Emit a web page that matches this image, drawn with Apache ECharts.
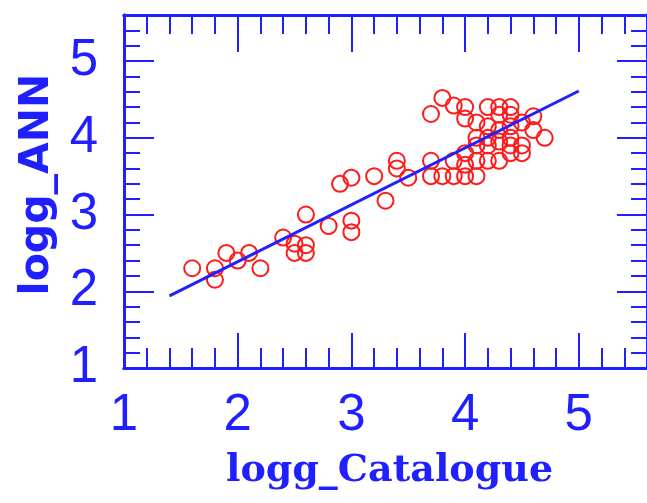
<!DOCTYPE html>
<html>
<head>
<meta charset="utf-8">
<script src="https://cdn.jsdelivr.net/npm/echarts@6/dist/echarts.min.js"></script>
<style>
  html, body { margin: 0; padding: 0; background: #fff; }
  #chart { width: 647px; height: 503px; }
</style>
</head>
<body>
<div id="chart"></div>
<script>
// Catalogue surface gravity vs. network-derived surface gravity
const loggCatalogue = [
  1.6, 1.8, 1.8, 1.9, 2.0, 2.1, 2.2, 2.4, 2.5, 2.5, 2.6, 2.6, 2.6, 2.8, 2.9,
  3.0, 3.0, 3.0, 3.2, 3.3, 3.4, 3.4, 3.5,
  3.7, 3.8, 3.9, 4.0, 4.0, 4.1, 4.2, 4.3, 4.4, 4.3, 4.4, 4.6,
  4.2, 4.3, 4.4, 4.5, 4.6, 4.1, 4.2, 4.3, 4.4, 4.7,
  4.1, 4.2, 4.4, 4.5, 4.0, 4.4, 4.5,
  3.7, 3.9, 4.1, 4.2, 4.3, 3.7, 3.8, 3.9, 4.0, 4.1, 4.0
];
const loggANN = [
  2.30, 2.30, 2.15, 2.50, 2.40, 2.50, 2.30, 2.70, 2.50, 2.62, 3.00, 2.60, 2.50, 2.85, 3.40,
  2.92, 2.77, 3.48, 3.50, 3.18, 3.70, 3.60, 3.48,
  4.31, 4.52, 4.42, 4.40, 4.25, 4.20, 4.40, 4.40, 4.40, 4.30, 4.30, 4.28,
  4.15, 4.10, 4.15, 4.20, 4.10, 4.00, 4.00, 3.95, 4.00, 4.00,
  3.90, 3.90, 3.90, 3.90, 3.80, 3.80, 3.80,
  3.70, 3.70, 3.70, 3.70, 3.70, 3.50, 3.50, 3.50, 3.50, 3.50, 3.65
];
// Linear fit drawn across the data
const fitX = [1.4, 5.0];
const fitY = [1.94, 4.61];

const xRange = [1, 5.6];
const yRange = [1, 5.6];
const majorStep = 1;
const minorStep = 0.2;

const BLUE = '#1f1fff';
const RED = '#ff1a1a';
const tickFont = '"Liberation Sans", Arial, sans-serif';

const points = loggCatalogue.map((x, i) => [x, loggANN[i]]);
const fitLine = fitX.map((x, i) => [x, fitY[i]]);

function frameAxis(position, step, tickLen, withLabels, extra) {
  const horizontal = position === 'bottom' || position === 'top';
  return Object.assign({
    type: 'value',
    position: position,
    min: horizontal ? xRange[0] : yRange[0],
    max: horizontal ? xRange[1] : yRange[1],
    interval: step,
    axisLine: { show: true, onZero: false, lineStyle: { color: BLUE, width: 3 } },
    axisTick: { show: true, inside: true, length: tickLen, lineStyle: { color: BLUE, width: 2 } },
    splitLine: { show: false },
    axisLabel: withLabels ? {
      show: true,
      color: BLUE,
      fontFamily: tickFont,
      fontSize: 51,
      margin: horizontal ? 22 : 26,
      showMaxLabel: false
    } : { show: false }
  }, extra || {});
}

const chart = echarts.init(document.getElementById('chart'), null, { renderer: 'canvas' });
chart.setOption({
  animation: false,
  backgroundColor: '#fff',
  grid: { left: 124, top: 15, right: -6, bottom: 135, containLabel: false },
  xAxis: [
    frameAxis('bottom', majorStep, 35, true, {
      name: 'logg_Catalogue',
      nameLocation: 'middle',
      nameGap: 84,
      nameTextStyle: { color: BLUE, fontFamily: '"DejaVu Serif", serif', fontWeight: 'bold', fontSize: 38, padding: [0, 0, 0, 8] }
    }),
    frameAxis('bottom', minorStep, 20, false),
    frameAxis('top', majorStep, 37, false),
    frameAxis('top', minorStep, 19, false)
  ],
  yAxis: [
    frameAxis('left', majorStep, 30, true, {
      name: 'logg_ANN',
      nameLocation: 'middle',
      nameGap: 66,
      nameTextStyle: { color: BLUE, fontFamily: '"DejaVu Sans", sans-serif', fontWeight: 'bold', fontSize: 41, padding: [0, 0, 0, 14] }
    }),
    frameAxis('left', minorStep, 16, false),
    frameAxis('right', majorStep, 30, false),
    frameAxis('right', minorStep, 16, false)
  ],
  series: [
    {
      type: 'scatter',
      xAxisIndex: 0,
      yAxisIndex: 0,
      symbol: 'circle',
      symbolSize: 16,
      itemStyle: { color: 'rgba(0,0,0,0)', borderColor: RED, borderWidth: 2, opacity: 1 },
      data: points,
      z: 2
    },
    {
      type: 'line',
      xAxisIndex: 0,
      yAxisIndex: 0,
      data: fitLine,
      showSymbol: false,
      symbol: 'none',
      lineStyle: { color: BLUE, width: 3 },
      z: 3
    }
  ]
});
</script>
</body>
</html>
